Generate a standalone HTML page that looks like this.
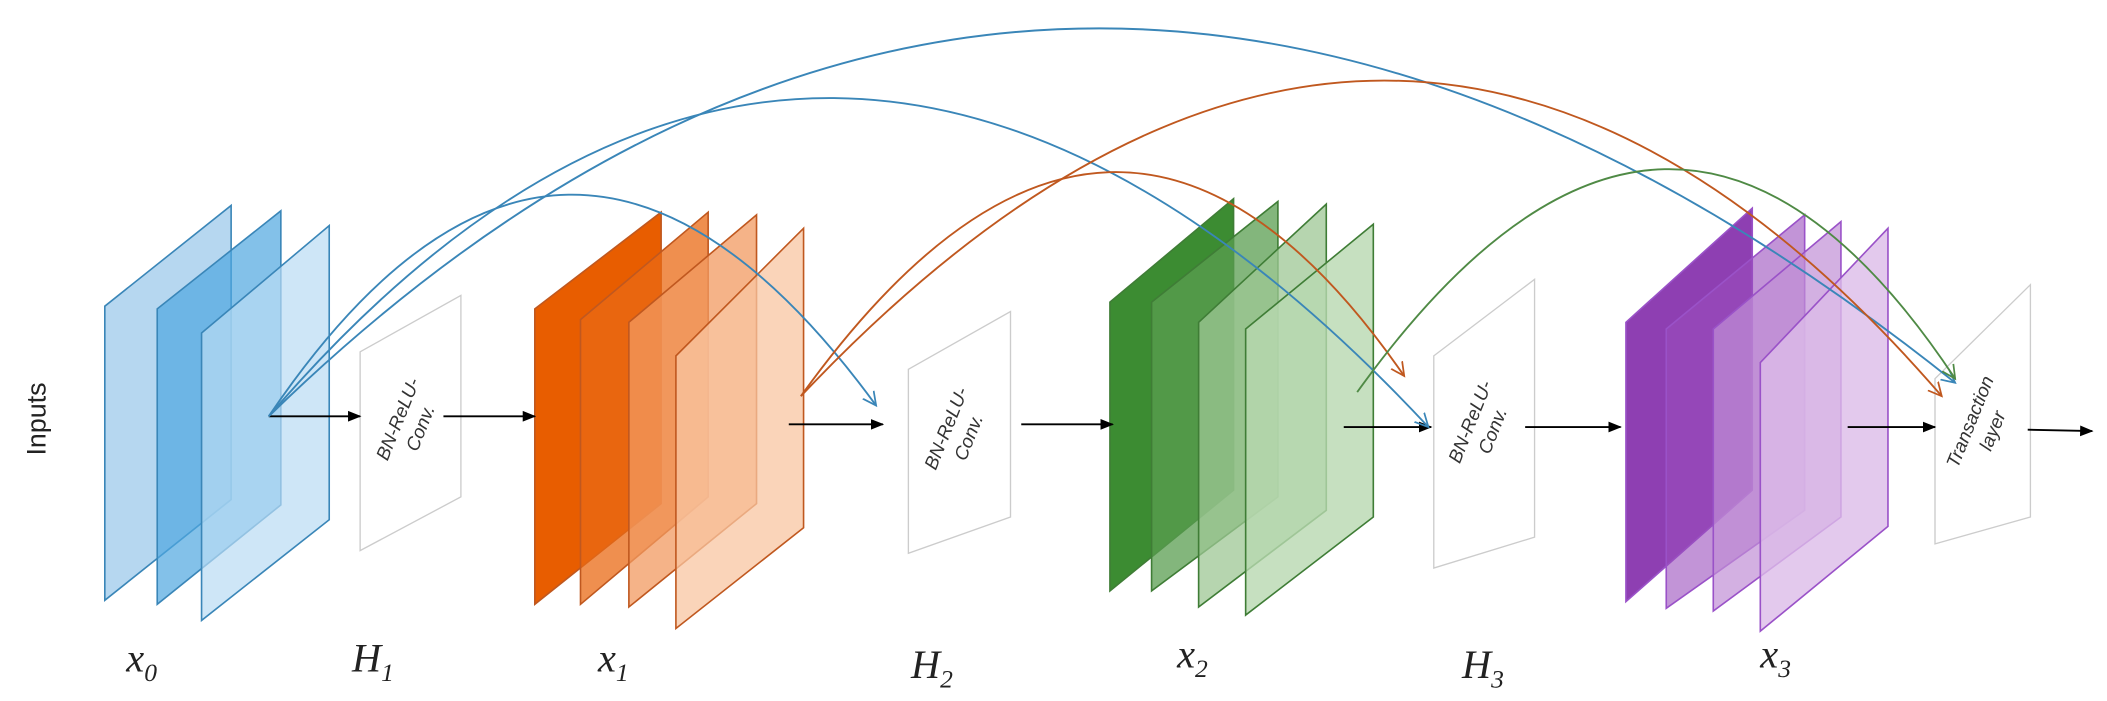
<!DOCTYPE html>
<html><head><meta charset="utf-8"><style>
html,body{margin:0;padding:0;background:#fff;}
svg{display:block;}
.lab{font-family:"Liberation Serif",serif;font-style:italic;font-size:30px;fill:#222;}
.sub{font-size:19px;}
.bt{font-family:"Liberation Sans",sans-serif;font-style:italic;font-size:14px;fill:#333;}
</style></head><body>
<svg width="2107" height="701" viewBox="0 0 1568 522" preserveAspectRatio="none">
<defs>
<marker id="ak" markerWidth="10" markerHeight="10" refX="9" refY="5" orient="auto" markerUnits="userSpaceOnUse"><path d="M0,1 L10,5 L0,9 z" fill="#000"/></marker>
<marker id="ab" markerWidth="12" markerHeight="12" refX="10" refY="6" orient="auto" markerUnits="userSpaceOnUse"><path d="M0,1 L10,6 L0,11" fill="none" stroke="#3a86b8" stroke-width="1.3"/></marker>
<marker id="ao" markerWidth="12" markerHeight="12" refX="10" refY="6" orient="auto" markerUnits="userSpaceOnUse"><path d="M0,1 L10,6 L0,11" fill="none" stroke="#c0581f" stroke-width="1.3"/></marker>
<marker id="ag" markerWidth="12" markerHeight="12" refX="10" refY="6" orient="auto" markerUnits="userSpaceOnUse"><path d="M0,1 L10,6 L0,11" fill="none" stroke="#4f8a45" stroke-width="1.3"/></marker>
</defs>

<text x="0" y="0" transform="translate(34,312) rotate(-90)" text-anchor="middle" font-family="Liberation Sans,sans-serif" font-size="20" fill="#222">Inputs</text>

<g stroke="#3a86b8" stroke-width="1.2">
<polygon points="78,228 172,153 172,372 78,447" fill="#b6d7f0"/>
<polygon points="117,230 209,157 209,376 117,450" fill="#4fa6e0" fill-opacity="0.7"/>
<polygon points="150,248 245,168 245,387 150,462" fill="#b9dbf3" fill-opacity="0.7"/>
</g>
<polygon points="268,262 343,220 343,370 268,410" fill="#fff" stroke="#ccc" stroke-width="1"/>
<g transform="translate(306,316) rotate(-68)"><text class="bt" x="0" y="-6" text-anchor="middle">BN-ReLU-</text><text class="bt" x="0" y="12" text-anchor="middle">Conv.</text></g>

<g stroke="#c0581f" stroke-width="1.2">
<polygon points="398,230 492,158 492,375 398,450" fill="#e85d00"/>
<polygon points="432,238 527,158 527,370 432,450" fill="#ea6a14" fill-opacity="0.75"/>
<polygon points="468,240 563,160 563,375 468,452" fill="#f29a60" fill-opacity="0.75"/>
<polygon points="503,265 598,170 598,393 503,468" fill="#f8c6a2" fill-opacity="0.75"/>
</g>
<polygon points="676,275 752,232 752,385 676,412" fill="#fff" stroke="#ccc" stroke-width="1"/>
<g transform="translate(714,323) rotate(-68)"><text class="bt" x="0" y="-6" text-anchor="middle">BN-ReLU-</text><text class="bt" x="0" y="12" text-anchor="middle">Conv.</text></g>

<g stroke="#3f7d36" stroke-width="1.2">
<polygon points="826,225 918,148 918,365 826,440" fill="#3c8c32"/>
<polygon points="857,225 951,150 951,370 857,440" fill="#5a9e50" fill-opacity="0.75"/>
<polygon points="892,240 987,152 987,380 892,452" fill="#9ec794" fill-opacity="0.75"/>
<polygon points="927,245 1022,167 1022,385 927,458" fill="#b8d8b0" fill-opacity="0.8"/>
</g>
<polygon points="1067,265 1142,208 1142,400 1067,423" fill="#fff" stroke="#ccc" stroke-width="1"/>
<g transform="translate(1104,318) rotate(-68)"><text class="bt" x="0" y="-6" text-anchor="middle">BN-ReLU-</text><text class="bt" x="0" y="12" text-anchor="middle">Conv.</text></g>

<g stroke="#9a52c8" stroke-width="1.2">
<polygon points="1210,240 1304,155 1304,365 1210,448" fill="#8e3fb2"/>
<polygon points="1240,245 1343,160 1343,380 1240,453" fill="#9a4cbd" fill-opacity="0.6"/>
<polygon points="1275,245 1370,165 1370,385 1275,455" fill="#c08fd6" fill-opacity="0.7"/>
<polygon points="1310,270 1405,170 1405,392 1310,470" fill="#dcbce8" fill-opacity="0.8"/>
</g>
<polygon points="1440,282 1511,212 1511,385 1440,405" fill="#fff" fill-opacity="0.9" stroke="#ccc" stroke-width="1"/>
<g transform="translate(1476,318) rotate(-68)"><text class="bt" x="0" y="-6" text-anchor="middle">Transaction</text><text class="bt" x="0" y="12" text-anchor="middle">layer</text></g>

<g stroke="#000" stroke-width="1.4" marker-end="url(#ak)">
<line x1="200" y1="310" x2="268" y2="310"/>
<line x1="330" y1="310" x2="398" y2="310"/>
<line x1="587" y1="316" x2="657" y2="316"/>
<line x1="760" y1="316" x2="828" y2="316"/>
<line x1="1000" y1="318" x2="1065" y2="318"/>
<line x1="1135" y1="318" x2="1206" y2="318"/>
<line x1="1375" y1="318" x2="1440" y2="318"/>
<line x1="1509" y1="320" x2="1557" y2="321"/>
</g>

<g fill="none" stroke-width="1.4">
<path d="M200,310 Q420,-16 652,302" stroke="#3a86b8" marker-end="url(#ab)"/>
<path d="M200,310 Q610,-168 1063,318" stroke="#3a86b8" marker-end="url(#ab)"/>
<path d="M200,310 Q780,-255 1455,285" stroke="#3a86b8" marker-end="url(#ab)"/>
<path d="M596,295 Q830,-31 1045,280" stroke="#c0581f" marker-end="url(#ao)"/>
<path d="M596,295 Q1040,-175 1445,295" stroke="#c0581f" marker-end="url(#ao)"/>
<path d="M1010,292 Q1245,-35 1455,282" stroke="#4f8a45" marker-end="url(#ag)"/>
</g>

<text class="lab" x="94" y="500">x<tspan class="sub" dy="7">0</tspan></text>
<text class="lab" x="262" y="500">H<tspan class="sub" dy="7">1</tspan></text>
<text class="lab" x="445" y="500">x<tspan class="sub" dy="7">1</tspan></text>
<text class="lab" x="678" y="505">H<tspan class="sub" dy="7">2</tspan></text>
<text class="lab" x="876" y="497">x<tspan class="sub" dy="7">2</tspan></text>
<text class="lab" x="1088" y="505">H<tspan class="sub" dy="7">3</tspan></text>
<text class="lab" x="1310" y="497">x<tspan class="sub" dy="7">3</tspan></text>
</svg>
</body></html>
